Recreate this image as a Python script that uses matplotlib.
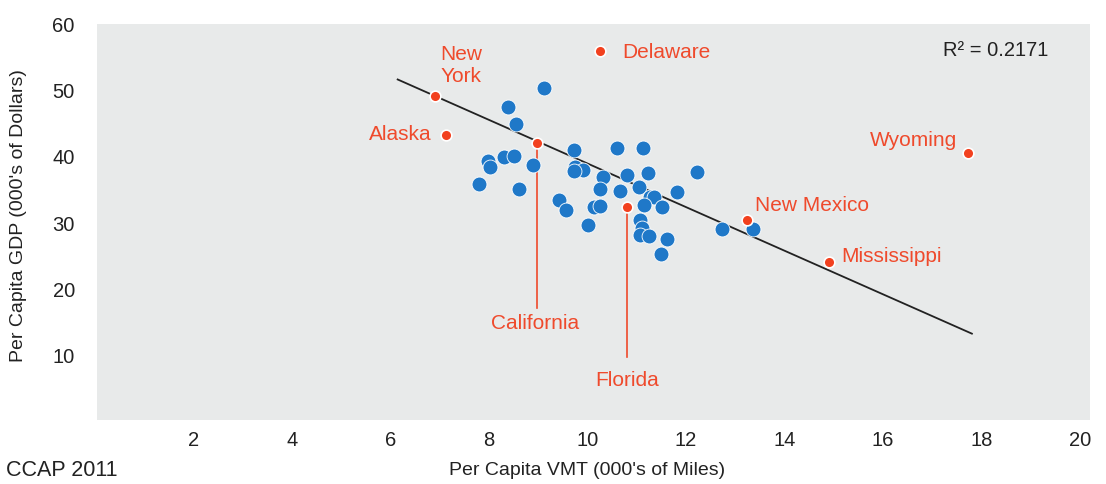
import matplotlib.pyplot as plt

# blue states (per capita VMT, per capita GDP)
blue_vmt = [9.11, 8.38, 8.55, 9.73, 10.60, 11.13, 7.98, 8.03, 8.30, 8.51, 8.89, 7.81, 8.62,
            9.75, 9.91, 9.72, 10.31, 10.26, 10.80, 11.22, 11.04, 10.67, 11.82, 12.23, 9.43,
            9.56, 10.13, 10.25, 10.02, 11.26, 11.36, 11.14, 11.51, 11.07, 11.10, 11.07, 11.24,
            11.61, 11.49, 12.73, 13.36]
blue_gdp = [50.4, 47.5, 44.9, 41.0, 41.4, 41.3, 39.4, 38.4, 40.0, 40.1, 38.7, 35.9, 35.1,
            38.5, 38.0, 37.9, 36.9, 35.1, 37.3, 37.5, 35.5, 34.9, 34.7, 37.7, 33.5,
            32.0, 32.5, 32.6, 29.7, 33.9, 33.9, 32.7, 32.5, 30.5, 29.3, 28.2, 28.1,
            27.6, 25.4, 29.1, 29.1]

# highlighted states
red_names = ['New\nYork', 'Delaware', 'Alaska', 'California', 'Florida', 'New Mexico', 'Mississippi', 'Wyoming']
red_vmt = [6.91, 10.26, 7.13, 8.98, 10.81, 13.24, 14.91, 17.73]
red_gdp = [49.2, 56.0, 43.3, 42.1, 32.4, 30.5, 24.1, 40.6]

# trend line
trend_slope = -3.29
trend_intercept = 71.9
trend_x = [6.15, 17.8]

x_ticks = [2, 4, 6, 8, 10, 12, 14, 16, 18, 20]
y_ticks = [10, 20, 30, 40, 50, 60]

blue = '#1f78c8'
red = '#f2411f'
label_red = '#ef4a2c'

plt.rcParams['font.family'] = ['Liberation Sans', 'DejaVu Sans']

fig = plt.figure(figsize=(11.06, 4.84), dpi=100)
# top of the grey panel sits at y=60
ax = fig.add_axes([0.0877, 0.132, 0.898, 0.818])
ax.set_facecolor('#e8eaea')
for s in ax.spines.values():
    s.set_visible(False)

ax.plot(trend_x, [trend_intercept + trend_slope * x for x in trend_x], color='#222222', lw=1.3, zorder=2)

ax.scatter(blue_vmt, blue_gdp, s=115, color=blue, edgecolors='white', linewidths=0.6, zorder=3)
ax.scatter(red_vmt, red_gdp, s=60, color=red, edgecolors='white', linewidths=1.2, zorder=4)

# leader lines for California and Florida
ax.plot([red_vmt[3], red_vmt[3]], [red_gdp[3], 17.2], color=label_red, lw=1.2, zorder=1)
ax.plot([red_vmt[4], red_vmt[4]], [red_gdp[4], 9.8], color=label_red, lw=1.2, zorder=1)

fs = 15
ax.text(7.01, 56.9, red_names[0], color=label_red, fontsize=fs, ha='left', va='top', linespacing=1.2)
ax.text(10.71, 55.8, red_names[1], color=label_red, fontsize=fs, ha='left', va='center')
ax.text(6.83, 43.3, red_names[2], color=label_red, fontsize=fs, ha='right', va='center')
ax.text(8.94, 14.9, red_names[3], color=label_red, fontsize=fs, ha='center', va='center')
ax.text(10.81, 6.3, red_names[4], color=label_red, fontsize=fs, ha='center', va='center')
ax.text(13.4, 32.6, red_names[5], color=label_red, fontsize=fs, ha='left', va='center')
ax.text(15.15, 25.0, red_names[6], color=label_red, fontsize=fs, ha='left', va='center')
ax.text(17.5, 42.5, red_names[7], color=label_red, fontsize=fs, ha='right', va='center')

ax.text(19.35, 56.1, 'R² = 0.2171', color='#222222', fontsize=14.5, ha='right', va='center')

ax.set_xlim(0.05, 20.2)
ax.set_ylim(0.3, 60.0)
ax.set_xticks(x_ticks)
ax.set_yticks(y_ticks)
ax.tick_params(length=0, labelsize=14.5, colors='#222222')
ax.tick_params(axis='y', pad=16)
ax.tick_params(axis='x', pad=8)

fig.text(0.0163, 0.555, "Per Capita GDP (000's of Dollars)", rotation=90, fontsize=14, ha='center', va='center', color='#222222')
fig.text(0.531, 0.028, "Per Capita VMT (000's of Miles)", fontsize=14, ha='center', va='center', color='#222222')
fig.text(0.005, 0.028, 'CCAP 2011', fontsize=15.5, ha='left', va='center', color='#222222')

fig.savefig('out.png', dpi=100, facecolor='white')
